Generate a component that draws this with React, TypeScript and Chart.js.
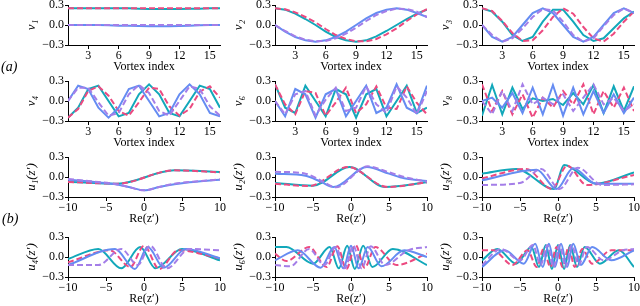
import React, { useEffect, useRef } from "react";
import { Chart, registerables } from "chart.js";
Chart.register(...registerables);

// ---------- data ----------
const VORTEX = [1, 2, 3, 4, 5, 6, 7, 8, 9, 10, 11, 12, 13, 14, 15, 16];
const VORTEX_TICKS = [3, 6, 9, 12, 15];
const RE_TICKS = [-10, -5, 0, 5, 10];
const Y_TICKS = [-0.3, 0, 0.3];

const v1Teal = [0.25, 0.25, 0.25, 0.25, 0.25, 0.25, 0.25, 0.245, 0.24, 0.24, 0.24, 0.24, 0.245, 0.245, 0.25, 0.25];
const v1Pink = [0.25, 0.25, 0.25, 0.25, 0.25, 0.25, 0.25, 0.25, 0.25, 0.25, 0.25, 0.25, 0.25, 0.25, 0.25, 0.25];
const v1Blue = [0.0, 0.0, 0.0, 0.0, -0.005, -0.01, -0.01, -0.015, -0.02, -0.02, -0.02, -0.015, -0.01, -0.005, 0.0, 0.0];
const v1Purple = [0.0, 0.0, 0.0, 0.0, 0.0, 0.0, 0.0, 0.0, 0.0, 0.0, 0.0, 0.0, 0.0, 0.0, 0.0, 0.0];

const v2Teal = [0.25, 0.23, 0.17, 0.09, 0.0, -0.1, -0.18, -0.23, -0.25, -0.23, -0.17, -0.09, 0.0, 0.09, 0.17, 0.23];
const v2Pink = [0.25, 0.235, 0.19, 0.12, 0.04, -0.06, -0.15, -0.21, -0.245, -0.245, -0.21, -0.14, -0.05, 0.06, 0.16, 0.24];
const v2Blue = [0.0, -0.1, -0.18, -0.23, -0.25, -0.23, -0.18, -0.1, 0.0, 0.1, 0.18, 0.23, 0.25, 0.23, 0.18, 0.12];
const v2Purple = [0.0, -0.09, -0.17, -0.22, -0.245, -0.24, -0.2, -0.13, -0.04, 0.06, 0.15, 0.21, 0.245, 0.24, 0.2, 0.12];

const v3Teal = [0.25, 0.2, 0.05, -0.15, -0.24, -0.18, 0.05, 0.23, 0.23, 0.05, -0.15, -0.24, -0.2, -0.05, 0.1, 0.2];
const v3Pink = [0.25, 0.21, 0.06, -0.12, -0.24, -0.23, -0.08, 0.12, 0.25, 0.17, -0.03, -0.2, -0.25, -0.13, 0.05, 0.2];
const v3Blue = [0.0, -0.18, -0.25, -0.18, 0.0, 0.18, 0.25, 0.18, 0.0, -0.18, -0.25, -0.18, 0.0, 0.18, 0.25, 0.18];
const v3Purple = [0.0, -0.15, -0.25, -0.2, -0.05, 0.12, 0.24, 0.22, 0.05, -0.15, -0.25, -0.2, -0.02, 0.15, 0.25, 0.18];

const v4Teal = [-0.25, -0.1, 0.18, 0.23, 0.0, -0.23, -0.18, 0.1, 0.25, 0.1, -0.18, -0.23, 0.0, 0.23, 0.18, -0.1];
const v4Pink = [-0.25, -0.12, 0.15, 0.22, 0.08, -0.15, -0.22, -0.02, 0.2, 0.18, -0.08, -0.22, -0.12, 0.14, 0.22, 0.05];
const v4Blue = [0.0, 0.23, 0.18, -0.1, -0.25, -0.1, 0.18, 0.23, 0.0, -0.23, -0.18, 0.1, 0.25, 0.1, -0.18, -0.23];
const v4Purple = [0.0, 0.2, 0.2, -0.02, -0.22, -0.18, 0.1, 0.24, 0.12, -0.15, -0.22, 0.0, 0.22, 0.18, -0.08, -0.22];

const v6Teal = [0.25, -0.1, -0.18, 0.23, 0.0, -0.23, 0.18, 0.1, -0.25, 0.1, 0.18, -0.23, 0.0, 0.23, -0.18, -0.1];
const v6Pink = [0.25, -0.05, -0.2, 0.15, 0.12, -0.22, -0.02, 0.2, -0.18, -0.05, 0.22, -0.1, -0.12, 0.22, -0.03, -0.2];
const v6Blue = [0.0, -0.23, 0.18, 0.1, -0.25, 0.1, 0.18, -0.23, 0.0, 0.23, -0.18, -0.1, 0.25, -0.1, -0.18, 0.23];
const v6Purple = [0.0, -0.2, 0.1, 0.15, -0.22, 0.02, 0.2, -0.15, -0.1, 0.22, -0.05, -0.18, 0.22, 0.05, -0.2, 0.15];

const v8Teal = [-0.22, 0.24, -0.2, 0.2, -0.12, 0.04, 0.0, 0.03, -0.06, 0.12, -0.05, 0.24, -0.18, 0.22, -0.15, 0.22];
const v8Pink = [0.25, -0.15, 0.15, -0.2, 0.1, -0.25, 0.05, -0.1, 0.15, -0.05, 0.25, -0.2, 0.15, -0.1, 0.2, -0.15];
const v8Blue = [0.0, 0.05, -0.1, 0.12, -0.18, 0.2, -0.2, 0.24, -0.22, 0.2, -0.2, 0.15, -0.18, 0.1, -0.18, 0.05];
const v8Purple = [0.0, -0.2, 0.15, -0.15, 0.25, -0.05, 0.05, -0.05, 0.1, -0.15, 0.05, 0.25, -0.05, 0.05, -0.15, -0.05];

// bottom row: key points (x, y) of each curve
const u1TealX = [-10, -3.5, 4, 10];
const u1TealY = [-0.07, -0.1, 0.1, 0.075];
const u1PinkX = [-10, -3.5, 4, 10];
const u1PinkY = [-0.075, -0.1, 0.1, 0.07];
const u1BlueX = [-10, -6, -4, -2, 0, 2, 4, 6, 10];
const u1BlueY = [-0.04, -0.08, -0.105, -0.15, -0.2, -0.15, -0.11, -0.08, -0.04];
const u1PurpleX = [-10, -6, -4, -2, 0, 2, 4, 6, 10];
const u1PurpleY = [-0.03, -0.075, -0.1, -0.15, -0.2, -0.15, -0.1, -0.075, -0.035];

const u2TealX = [-10, -5, -0.2, 4.5, 10];
const u2TealY = [-0.09, -0.13, 0.15, -0.15, -0.08];
const u2PinkX = [-10, -5.5, -0.4, 4.8, 10];
const u2PinkY = [-0.1, -0.135, 0.15, -0.15, -0.08];
const u2BlueX = [-10, -6, -4, -2.3, 2.1, 5, 7, 10];
const u2BlueY = [0.05, 0.02, -0.07, -0.15, 0.15, 0.05, -0.02, -0.06];
const u2PurpleX = [-10, -6, -4, -2, 2.2, 5, 7, 10];
const u2PurpleY = [0.08, 0.05, -0.05, -0.155, 0.16, 0.07, 0.0, -0.07];

const u3TealX = [-10, -5.5, -0.5, 0.8, 5, 10];
const u3TealY = [0.05, 0.12, -0.18, 0.18, -0.1, 0.07];
const u3PinkX = [-10, -4.2, -0.8, 1.2, 3.8, 10];
const u3PinkY = [-0.02, 0.12, -0.18, 0.17, -0.12, 0.03];
const u3BlueX = [-10, -2.8, -0.2, 2, 5, 10];
const u3BlueY = [-0.05, 0.11, -0.18, 0.13, -0.1, -0.1];
const u3PurpleX = [-10, -5, -2.2, 0.2, 2.6, 5.8, 10];
const u3PurpleY = [-0.12, -0.09, 0.12, -0.18, 0.14, -0.12, -0.11];

const u4TealX = [-10, -6, -3, -0.5, 1.5, 5, 10];
const u4TealY = [-0.03, 0.12, -0.17, 0.15, -0.17, 0.12, -0.05];
const u4PinkX = [-10, -4.5, -1.8, 0, 2, 4.5, 10];
const u4PinkY = [-0.08, 0.1, -0.15, 0.17, -0.18, 0.1, -0.02];
const u4BlueX = [-10, -3.8, -1.2, 0.5, 2.6, 5.5, 10];
const u4BlueY = [-0.12, 0.12, -0.18, 0.15, -0.16, 0.12, -0.02];
const u4PurpleX = [-10, -6, -3, -0.8, 0.8, 3, 6, 10];
const u4PurpleY = [-0.12, -0.12, 0.12, -0.12, 0.17, -0.17, 0.12, 0.1];

const u6TealX = [-10, -8.5, -5, -2.8, -1.6, -0.5, 0.5, 1.6, 2.8, 5.5, 10];
const u6TealY = [0.15, 0.15, -0.1, 0.15, -0.17, 0.17, -0.18, 0.17, -0.15, 0.12, -0.12];
const u6PinkX = [-10, -8.5, -5.5, -3.2, -1.8, -0.6, 0.6, 1.8, 3.2, 6, 10];
const u6PinkY = [0.05, -0.06, 0.15, -0.15, 0.16, -0.18, 0.18, -0.16, 0.15, -0.12, 0.05];
const u6BlueX = [-10, -7, -4, -2.2, -1, 0, 1, 2.2, 4, 7, 10];
const u6BlueY = [-0.05, 0.1, -0.16, 0.15, -0.17, 0.17, -0.17, 0.15, -0.14, 0.1, 0.0];
const u6PurpleX = [-10, -8, -5.5, -3.5, -2, -0.8, 0.3, 1.4, 2.6, 4.5, 7.5, 10];
const u6PurpleY = [-0.12, -0.14, 0.12, -0.12, 0.15, -0.17, 0.17, -0.17, 0.16, -0.12, 0.1, 0.15];

const u8TealX = [-10, -8, -5.5, -3.5, -2.5, -1.6, -0.8, 0, 0.8, 1.6, 2.5, 3.5, 5.5, 8, 10];
const u8TealY = [-0.05, 0.12, -0.1, 0.15, -0.15, 0.18, -0.18, 0.18, -0.18, 0.18, -0.15, 0.15, -0.1, 0.1, -0.15];
const u8PinkX = [-10, -8.5, -6, -4, -2.8, -1.9, -1, -0.2, 0.6, 1.4, 2.2, 3.2, 4.5, 7, 10];
const u8PinkY = [0.1, 0.1, -0.12, 0.1, -0.15, 0.12, -0.15, 0.15, -0.15, 0.15, -0.15, 0.12, -0.1, 0.1, 0.1];
const u8BlueX = [-10, -7, -4.5, -3, -2, -1.2, -0.4, 0.4, 1.2, 2, 3, 4.5, 7, 10];
const u8BlueY = [-0.15, 0.1, -0.1, 0.2, -0.15, 0.2, -0.15, 0.2, -0.15, 0.2, -0.12, 0.15, -0.05, 0.1];
const u8PurpleX = [-10, -7.5, -5, -3.3, -2.3, -1.4, -0.6, 0.2, 1, 1.8, 2.7, 3.8, 6, 8.5, 10];
const u8PurpleY = [-0.12, 0.12, -0.05, 0.18, -0.12, 0.18, -0.15, 0.18, -0.15, 0.18, -0.12, 0.15, -0.05, 0.1, 0.12];

// ---------- style ----------
const FONT = "'Liberation Serif', 'DejaVu Serif', serif";
const TEAL = "#12a8ba";
const PINK = "#ec4a80";
const BLUE = "#658cf2";
const PURPLE = "#a47ee8";

const COLS = [68, 275, 482];
const ROWS = [5, 81, 157, 237];
const PLOT_W = 152;
const PLOT_H = 40;
const Y_AXIS_W = 55;
const PAD_TOP = 7;
const PAD_RIGHT = 8;
const X_AXIS_H = 30;

type Series = { x: number[]; y: number[] };
type PanelCfg = {
  col: number;
  row: number;
  yLabel: string;
  xLabel: string;
  series: Series[];
  xMin: number;
  xMax: number;
  xTicks: number[];
  smooth: boolean;
};

const vs = (a: number[]): Series => ({ x: VORTEX, y: a });

const PANELS: PanelCfg[] = [
  { col: 0, row: 0, yLabel: "v\u2081", xLabel: "Vortex index", series: [vs(v1Teal), vs(v1Pink), vs(v1Blue), vs(v1Purple)], xMin: 1, xMax: 16, xTicks: VORTEX_TICKS, smooth: false },
  { col: 1, row: 0, yLabel: "v\u2082", xLabel: "Vortex index", series: [vs(v2Teal), vs(v2Pink), vs(v2Blue), vs(v2Purple)], xMin: 1, xMax: 16, xTicks: VORTEX_TICKS, smooth: false },
  { col: 2, row: 0, yLabel: "v\u2083", xLabel: "Vortex index", series: [vs(v3Teal), vs(v3Pink), vs(v3Blue), vs(v3Purple)], xMin: 1, xMax: 16, xTicks: VORTEX_TICKS, smooth: false },
  { col: 0, row: 1, yLabel: "v\u2084", xLabel: "Vortex index", series: [vs(v4Teal), vs(v4Pink), vs(v4Blue), vs(v4Purple)], xMin: 1, xMax: 16, xTicks: VORTEX_TICKS, smooth: false },
  { col: 1, row: 1, yLabel: "v\u2086", xLabel: "Vortex index", series: [vs(v6Teal), vs(v6Pink), vs(v6Blue), vs(v6Purple)], xMin: 1, xMax: 16, xTicks: VORTEX_TICKS, smooth: false },
  { col: 2, row: 1, yLabel: "v\u2088", xLabel: "Vortex index", series: [vs(v8Teal), vs(v8Pink), vs(v8Blue), vs(v8Purple)], xMin: 1, xMax: 16, xTicks: VORTEX_TICKS, smooth: false },
  { col: 0, row: 2, yLabel: "u\u2081(z\u2032)", xLabel: "Re(z\u2032)", series: [{ x: u1TealX, y: u1TealY }, { x: u1PinkX, y: u1PinkY }, { x: u1BlueX, y: u1BlueY }, { x: u1PurpleX, y: u1PurpleY }], xMin: -10, xMax: 10, xTicks: RE_TICKS, smooth: true },
  { col: 1, row: 2, yLabel: "u\u2082(z\u2032)", xLabel: "Re(z\u2032)", series: [{ x: u2TealX, y: u2TealY }, { x: u2PinkX, y: u2PinkY }, { x: u2BlueX, y: u2BlueY }, { x: u2PurpleX, y: u2PurpleY }], xMin: -10, xMax: 10, xTicks: RE_TICKS, smooth: true },
  { col: 2, row: 2, yLabel: "u\u2083(z\u2032)", xLabel: "Re(z\u2032)", series: [{ x: u3TealX, y: u3TealY }, { x: u3PinkX, y: u3PinkY }, { x: u3BlueX, y: u3BlueY }, { x: u3PurpleX, y: u3PurpleY }], xMin: -10, xMax: 10, xTicks: RE_TICKS, smooth: true },
  { col: 0, row: 3, yLabel: "u\u2084(z\u2032)", xLabel: "Re(z\u2032)", series: [{ x: u4TealX, y: u4TealY }, { x: u4PinkX, y: u4PinkY }, { x: u4BlueX, y: u4BlueY }, { x: u4PurpleX, y: u4PurpleY }], xMin: -10, xMax: 10, xTicks: RE_TICKS, smooth: true },
  { col: 1, row: 3, yLabel: "u\u2086(z\u2032)", xLabel: "Re(z\u2032)", series: [{ x: u6TealX, y: u6TealY }, { x: u6PinkX, y: u6PinkY }, { x: u6BlueX, y: u6BlueY }, { x: u6PurpleX, y: u6PurpleY }], xMin: -10, xMax: 10, xTicks: RE_TICKS, smooth: true },
  { col: 2, row: 3, yLabel: "u\u2088(z\u2032)", xLabel: "Re(z\u2032)", series: [{ x: u8TealX, y: u8TealY }, { x: u8PinkX, y: u8PinkY }, { x: u8BlueX, y: u8BlueY }, { x: u8PurpleX, y: u8PurpleY }], xMin: -10, xMax: 10, xTicks: RE_TICKS, smooth: true },
];

const MINUS = "\u2212";
const fmtY = (v: number) => (Math.abs(v) < 1e-9 ? "0.0" : (v < 0 ? MINUS : "") + Math.abs(v).toFixed(1));
const fmtX = (v: number) => (v < 0 ? MINUS : "") + String(Math.abs(v));

const zeroPad = (s: any) => {
  s.paddingLeft = 0;
  s.paddingRight = 0;
  s.paddingTop = 0;
  s.paddingBottom = 0;
};

function Panel({ cfg }: { cfg: PanelCfg }) {
  const ref = useRef<HTMLCanvasElement>(null);
  const width = Y_AXIS_W + PLOT_W + PAD_RIGHT;
  const height = PAD_TOP + PLOT_H + X_AXIS_H;
  useEffect(() => {
    if (!ref.current) return;
    const styles = [
      { color: TEAL, dash: [] as number[] },
      { color: PINK, dash: [6, 3] },
      { color: BLUE, dash: [] as number[] },
      { color: PURPLE, dash: [6, 3] },
    ];
    const datasets = cfg.series.map((s, i) => ({
      data: s.x.map((x, j) => ({ x, y: s.y[j] })),
      borderColor: styles[i].color,
      borderDash: styles[i].dash,
      borderWidth: 2,
      pointRadius: 0,
      fill: false,
      tension: 0,
      cubicInterpolationMode: cfg.smooth ? "monotone" : "default",
    }));
    datasets.reverse();
    const chart = new Chart(ref.current, {
      type: "line",
      data: { datasets: datasets as any },
      options: {
        responsive: false,
        animation: false,
        devicePixelRatio: 1,
        events: [],
        layout: { padding: { top: PAD_TOP, right: PAD_RIGHT, left: 0, bottom: 0 } },
        plugins: { legend: { display: false }, tooltip: { enabled: false } },
        scales: {
          x: {
            type: "linear",
            min: cfg.xMin,
            max: cfg.xMax,
            afterBuildTicks: (s: any) => {
              s.ticks = cfg.xTicks.map((v) => ({ value: v }));
            },
            afterFit: (s: any) => {
              s.height = X_AXIS_H;
              zeroPad(s);
            },
            grid: { drawOnChartArea: false, drawTicks: true, tickLength: 4, color: "#000", lineWidth: 1 },
            border: { display: true, color: "#000", width: 1 },
            ticks: {
              color: "#000",
              font: { family: FONT, size: 12 },
              padding: 0,
              maxRotation: 0,
              autoSkip: false,
              callback: (v: any) => fmtX(Number(v)),
            },
            title: {
              display: true,
              text: cfg.xLabel,
              color: "#000",
              font: { family: FONT, size: 12 },
              padding: { top: 0, bottom: 1 },
            },
          },
          y: {
            type: "linear",
            min: -0.3,
            max: 0.3,
            afterBuildTicks: (s: any) => {
              s.ticks = Y_TICKS.map((v) => ({ value: v }));
            },
            afterFit: (s: any) => {
              s.width = Y_AXIS_W;
              zeroPad(s);
            },
            grid: { drawOnChartArea: false, drawTicks: true, tickLength: 3, color: "#000", lineWidth: 1 },
            border: { display: true, color: "#000", width: 1 },
            ticks: {
              color: "#000",
              font: { family: FONT, size: 12 },
              padding: 1,
              autoSkip: false,
              callback: (v: any) => fmtY(Number(v)),
            },
            title: {
              display: true,
              text: cfg.yLabel,
              color: "#000",
              font: { family: FONT, size: 13, style: "italic" },
              padding: { top: 11, bottom: 0 },
            },
          },
        },
      } as any,
    });
    return () => chart.destroy();
  }, [cfg]);
  return (
    <canvas
      ref={ref}
      width={width}
      height={height}
      style={{
        position: "absolute",
        left: COLS[cfg.col] - Y_AXIS_W,
        top: ROWS[cfg.row] - PAD_TOP,
        width,
        height,
      }}
    />
  );
}

export default function App() {
  return (
    <div
      style={{
        position: "fixed",
        left: 0,
        top: 0,
        width: 640,
        height: 306,
        background: "#fff",
        overflow: "hidden",
      }}
    >
      {PANELS.map((p, i) => (
        <Panel key={i} cfg={p} />
      ))}
      <div style={{ position: "absolute", left: 1, top: 59, font: `italic 14px ${FONT}`, color: "#000" }}>(a)</div>
      <div style={{ position: "absolute", left: 2, top: 211, font: `italic 14px ${FONT}`, color: "#000" }}>(b)</div>
    </div>
  );
}
